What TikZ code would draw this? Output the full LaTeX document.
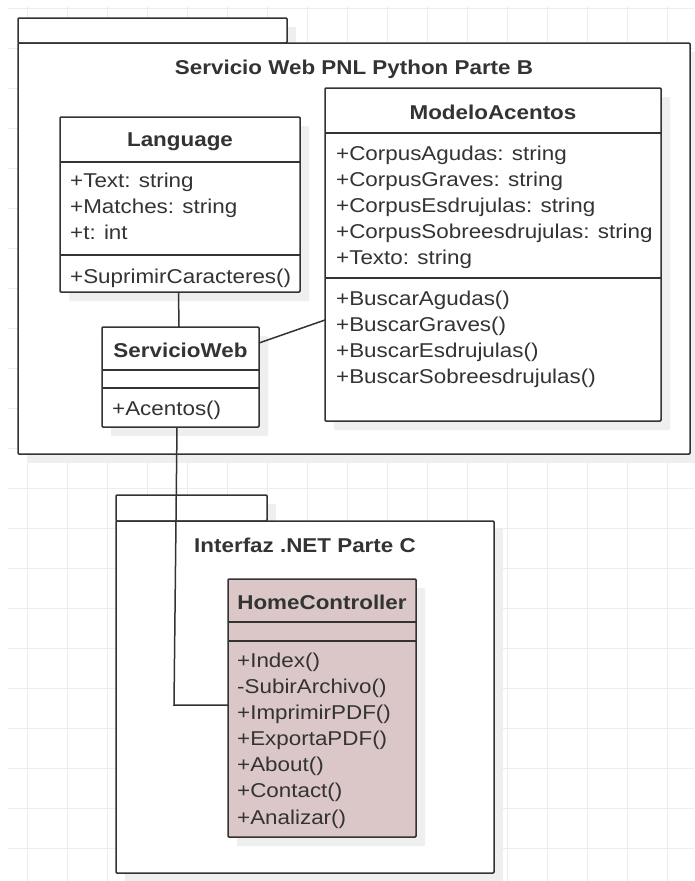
\documentclass[tikz,border=0pt]{standalone}
\usepackage{fontspec}
\setmainfont[FakeStretch=1.12]{Liberation Sans}
\usetikzlibrary{shadows}
\definecolor{ink}{HTML}{333333}
\definecolor{gridc}{HTML}{EDEDED}
\definecolor{hcfill}{HTML}{DBC7C7}
\definecolor{shad}{HTML}{EFEFEF}
\begin{document}
\begin{tikzpicture}[x=1pt,y=-1pt,
  cls/.style={draw=ink, line width=1.5pt, fill=white, rounded corners=1pt, inner sep=0pt, outer sep=0pt, anchor=north west,
    drop shadow={shadow xshift=9pt, shadow yshift=-9pt, fill=shad, opacity=1}},
  pkg/.style={draw=ink, line width=1.5pt, fill=white, rounded corners=1pt},
  sep/.style={draw=ink, line width=1.5pt},
  txt/.style={anchor=base west, inner sep=0pt, text=ink, font=\fontsize{20}{21}\selectfont},
  ttl/.style={anchor=base, inner sep=0pt, text=ink, font=\fontsize{20}{21}\selectfont\bfseries},
  link/.style={draw=ink, line width=1.5pt}]
\useasboundingbox (0,0) rectangle (694,881);
\fill[white] (0,0) rectangle (694,881);
% background grid
\foreach \gx in {27,67,...,667} \draw[gridc, line width=1pt] (\gx,6) -- (\gx,881);
\foreach \gy in {8,48,...,848} \draw[gridc, line width=1pt] (8,\gy) -- (694,\gy);

% ---------- package B ----------
\fill[shad] (27,27) rectangle (296,52);
\fill[shad] (27,52) rectangle (699,463);
\draw[pkg] (18,43) rectangle (287,18);
\draw[pkg] (18,43) rectangle (690,454);
\node[ttl] (pkgBt) at (354,74) {Servicio Web PNL Python Parte B};

% ---------- package C ----------
\fill[shad] (125,504) rectangle (276,529);
\fill[shad] (125,529) rectangle (503,882);
\draw[pkg] (116,521) rectangle (267,495);
\draw[pkg] (116,521) rectangle (494,873);
\node[ttl] (pkgCt) at (305,552) {Interfaz .NET Parte C};

% ---------- Language ----------
\node[cls, minimum width=240, minimum height=175] (lang) at (60,117) {};
\draw[sep] (60,162) -- (300,162);
\draw[sep] (60,255) -- (300,255);
\node[ttl] (langt) at (180,146) {Language};
\node[txt] (la1) at (70,187) {+Text: string};
\node[txt] (la2) at (70,213) {+Matches: string};
\node[txt] (la3) at (70,239) {+t: int};
\node[txt] (lm1) at (70,283) {+SuprimirCaracteres()};

% ---------- ModeloAcentos ----------
\node[cls, minimum width=336, minimum height=333] (ma) at (325,88) {};
\draw[sep] (325,133) -- (661,133);
\draw[sep] (325,278) -- (661,278);
\node[ttl] (mat) at (493,119) {ModeloAcentos};
\node[txt] (ma1) at (336,160) {+CorpusAgudas: string};
\node[txt] (ma2) at (336,186) {+CorpusGraves: string};
\node[txt] (ma3) at (336,212) {+CorpusEsdrujulas: string};
\node[txt] (ma4) at (336,238) {+CorpusSobreesdrujulas: string};
\node[txt] (ma5) at (336,264) {+Texto: string};
\node[txt] (mm1) at (336,305) {+BuscarAgudas()};
\node[txt] (mm2) at (336,331) {+BuscarGraves()};
\node[txt] (mm3) at (336,357) {+BuscarEsdrujulas()};
\node[txt] (mm4) at (336,383) {+BuscarSobreesdrujulas()};

% ---------- ServicioWeb ----------
\node[cls, minimum width=157, minimum height=100] (sw) at (102,327) {};
\draw[sep] (102,370) -- (259,370);
\draw[sep] (102,388) -- (259,388);
\node[ttl] (swt) at (180.5,357) {ServicioWeb};
\node[txt] (sm1) at (112,415) {+Acentos()};

% ---------- HomeController ----------
\node[cls, fill=hcfill, minimum width=188, minimum height=258] (hc) at (228,579) {};
\draw[sep] (228,622) -- (416,622);
\draw[sep] (228,641) -- (416,641);
\node[ttl] (hct) at (322,609) {HomeController};
\node[txt] (hm1) at (237,667) {+Index()};
\node[txt] (hm2) at (237,693) {-SubirArchivo()};
\node[txt] (hm3) at (237,719) {+ImprimirPDF()};
\node[txt] (hm4) at (237,745) {+ExportaPDF()};
\node[txt] (hm5) at (237,771) {+About()};
\node[txt] (hm6) at (237,797) {+Contact()};
\node[txt] (hm7) at (237,824) {+Analizar()};

% ---------- connectors ----------
\draw[link] ([xshift=-1.5pt]lang.south) -- ([xshift=-1.5pt]sw.north);
\draw[link] ([yshift=-16pt]sw.north east) -- ([yshift=-232pt]ma.north west);
\coordinate (bend) at (174,705);
\draw[link] ([xshift=-3.5pt]sw.south) -- (bend) -- (bend -| hc.west);
\end{tikzpicture}
\end{document}
